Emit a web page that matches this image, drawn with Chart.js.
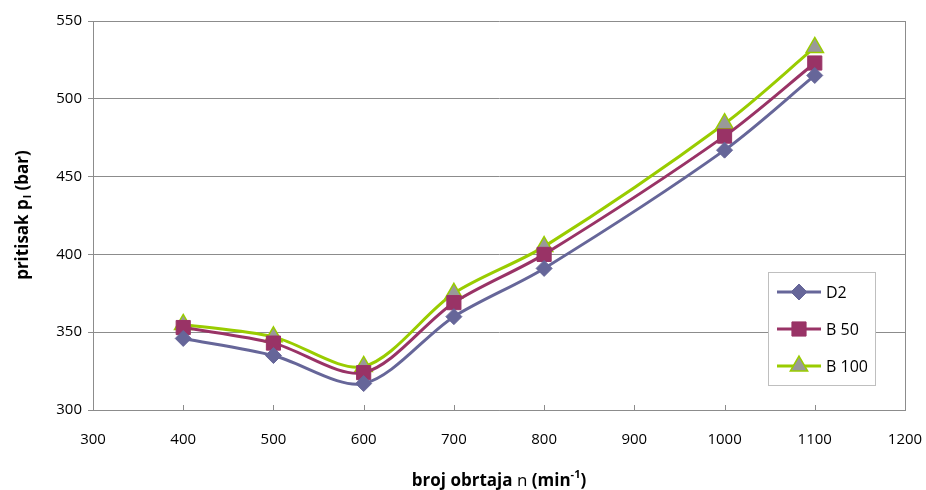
<!DOCTYPE html>
<html>
<head>
<meta charset="utf-8">
<script src="https://cdn.jsdelivr.net/npm/chart.js@4.4.0/dist/chart.umd.min.js"></script>
<style>
  html, body { margin: 0; padding: 0; background: #fff; }
  #wrap { width: 926px; height: 490px; position: relative; }
</style>
</head>
<body>
<div id="wrap"><canvas id="chart-area"></canvas></div>
<script>
  // podaci sa grafika
  var rpm = [400, 500, 600, 700, 800, 1000, 1100];
  var seriesNames = ['D2', 'B50', 'B100'];
  var legendNames = ['D2', 'B 50', 'B 100'];
  var d2 = [346, 335, 317, 360, 391, 467, 515];
  var b50 = [353, 343, 324, 369, 400, 476, 523];
  var b100 = [355, 347, 328, 375, 405, 484, 533];
  var xTicks = [300, 400, 500, 600, 700, 800, 900, 1000, 1100, 1200];
  var yTicks = [300, 350, 400, 450, 500, 550];

  var font = "'Open Sans', 'DejaVu Sans', sans-serif";
  var gridColor = '#8c8c8c';

  function points(vals) {
    return vals.map(function (v, i) { return { x: rpm[i], y: v }; });
  }

  var datasets = [
    { label: seriesNames[0], data: points(d2), borderColor: '#666699', backgroundColor: '#666699',
      pointStyle: 'rectRot', pointRadius: 8, pointBorderColor: '#666699', pointBackgroundColor: '#666699' },
    { label: seriesNames[1], data: points(b50), borderColor: '#993366', backgroundColor: '#993366',
      pointStyle: 'rect', pointRadius: 10, pointBorderColor: '#993366', pointBackgroundColor: '#993366' },
    { label: seriesNames[2], data: points(b100), borderColor: '#99CC00', backgroundColor: '#999999',
      pointStyle: 'triangle', pointRadius: 10, pointBorderColor: '#99CC00', pointBackgroundColor: '#999999',
      pointBorderWidth: 1.5 }
  ];
  datasets.forEach(function (ds) {
    ds.borderWidth = 3;
    ds.tension = 0.3;
    ds.fill = false;
    if (!ds.pointBorderWidth) ds.pointBorderWidth = 1;
    ds.pointHoverRadius = ds.pointRadius;
  });

  // ose, tickovi iznutra na x osi, legenda u polju
  var extras = {
    id: 'extras',
    beforeDatasetsDraw: function (chart) {
      var ctx = chart.ctx;
      var area = chart.chartArea;
      ctx.save();
      ctx.strokeStyle = gridColor;
      ctx.lineWidth = 1;
      ctx.beginPath();
      ctx.moveTo(Math.round(area.right) + 0.5, area.top);
      ctx.lineTo(Math.round(area.right) + 0.5, area.bottom);
      ctx.stroke();
      ctx.restore();
    },
    afterDraw: function (chart) {
      var ctx = chart.ctx;
      var xs = chart.scales.x;
      var area = chart.chartArea;
      ctx.save();
      ctx.strokeStyle = gridColor;
      ctx.lineWidth = 1;
      xTicks.forEach(function (t) {
        var px = Math.round(xs.getPixelForValue(t)) + 0.5;
        ctx.beginPath();
        ctx.moveTo(px, area.bottom);
        ctx.lineTo(px, area.bottom - 5);
        ctx.stroke();
      });

      // naslovi osa
      ctx.fillStyle = '#000';
      ctx.textBaseline = 'alphabetic';
      var t1 = 'broj obrtaja ', t2 = 'n', t3 = ' (min', t4 = '-1', t5 = ')';
      ctx.font = 'bold 17px ' + font; var w1 = ctx.measureText(t1).width;
      ctx.font = '17px ' + font; var w2 = ctx.measureText(t2).width;
      ctx.font = 'bold 17px ' + font; var w3 = ctx.measureText(t3).width;
      ctx.font = 'bold 11px ' + font; var w4 = ctx.measureText(t4).width;
      ctx.font = 'bold 17px ' + font; var w5 = ctx.measureText(t5).width;
      var total = w1 + w2 + w3 + w4 + w5;
      var cx = (area.left + area.right) / 2 - total / 2;
      var by = 486;
      ctx.textAlign = 'left';
      ctx.font = 'bold 17px ' + font; ctx.fillText(t1, cx, by); cx += w1;
      ctx.font = '17px ' + font; ctx.fillText(t2, cx, by); cx += w2;
      ctx.font = 'bold 17px ' + font; ctx.fillText(t3, cx, by); cx += w3;
      ctx.font = 'bold 11px ' + font; ctx.fillText(t4, cx, by - 8); cx += w4;
      ctx.font = 'bold 17px ' + font; ctx.fillText(t5, cx, by);

      ctx.save();
      ctx.translate(28, (area.top + area.bottom) / 2);
      ctx.rotate(-Math.PI / 2);
      var y1 = 'pritisak p', y2 = 'l', y3 = ' (bar)';
      ctx.font = 'bold 17px ' + font; var v1 = ctx.measureText(y1).width;
      ctx.font = 'bold 11px ' + font; var v2 = ctx.measureText(y2).width;
      ctx.font = 'bold 17px ' + font; var v3 = ctx.measureText(y3).width;
      var sx = -(v1 + v2 + v3) / 2;
      ctx.font = 'bold 17px ' + font; ctx.fillText(y1, sx, 0); sx += v1;
      ctx.font = 'bold 11px ' + font; ctx.fillText(y2, sx + 1, 3); sx += v2 + 1;
      ctx.font = 'bold 17px ' + font; ctx.fillText(y3, sx, 0);
      ctx.restore();

      // legenda
      var lx = 768, ly = 272, lw = 107, lh = 113;
      ctx.fillStyle = '#fff';
      ctx.fillRect(lx, ly, lw, lh);
      ctx.strokeStyle = '#BFBFBF';
      ctx.lineWidth = 1;
      ctx.strokeRect(lx + 0.5, ly + 0.5, lw, lh);
      chart.data.datasets.forEach(function (ds, i) {
        var ry = ly + 20 + i * 37;
        ctx.strokeStyle = ds.borderColor;
        ctx.lineWidth = 3;
        ctx.beginPath();
        ctx.moveTo(lx + 9, ry);
        ctx.lineTo(lx + 53, ry);
        ctx.stroke();
        ctx.fillStyle = ds.pointBackgroundColor;
        ctx.strokeStyle = ds.pointBorderColor;
        ctx.lineWidth = ds.pointBorderWidth;
        Chart.helpers.drawPoint(ctx, {
          pointStyle: ds.pointStyle, radius: ds.pointRadius,
          borderWidth: ds.pointBorderWidth, rotation: 0
        }, lx + 31, ry);
        ctx.fillStyle = '#000';
        ctx.font = '16px ' + font;
        ctx.textAlign = 'left';
        ctx.textBaseline = 'middle';
        ctx.fillText(legendNames[i], lx + 58, ry + 1);
      });
      ctx.restore();
    }
  };

  var ctx = document.getElementById('chart-area').getContext('2d');
  window.myLine = new Chart(ctx, {
    type: 'line',
    data: { datasets: datasets },
    options: {
      responsive: true,
      maintainAspectRatio: false,
      animation: false,
      layout: { padding: { top: 21, right: 0, left: 0, bottom: 0 } },
      plugins: { legend: { display: false }, tooltip: { enabled: false } },
      scales: {
        x: {
          type: 'linear', min: 300, max: 1200,
          afterBuildTicks: function (s) { s.ticks = xTicks.map(function (v) { return { value: v }; }); },
          afterFit: function (s) { s.height = 80; s.paddingRight = 21; s.paddingLeft = 0; },
          grid: { display: false, drawTicks: false },
          border: { display: true, color: gridColor, width: 1 },
          ticks: { color: '#000', font: { family: font, size: 15 }, padding: 21, maxRotation: 0,
            callback: function (v) { return String(v); } }
        },
        y: {
          min: 300, max: 550,
          afterBuildTicks: function (s) { s.ticks = yTicks.map(function (v) { return { value: v }; }); },
          afterFit: function (s) { s.width = 93; s.paddingTop = 0; s.paddingBottom = 0; },
          grid: { color: gridColor, lineWidth: 1, tickLength: 5, drawTicks: true },
          border: { display: true, color: gridColor, width: 1 },
          ticks: { color: '#000', font: { family: font, size: 15 }, padding: 6,
            callback: function (v) { return String(v); } }
        }
      }
    },
    plugins: [extras]
  });
</script>
</body>
</html>
